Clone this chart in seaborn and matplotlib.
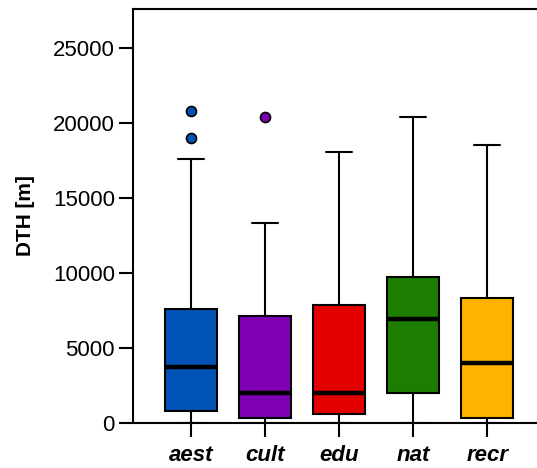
import matplotlib
matplotlib.use("Agg")
import matplotlib.pyplot as plt
import seaborn as sns
import pandas as pd

# Distance-to-home summary per activity category (metres)
categories = ["aest", "cult", "edu", "nat", "recr"]
whisker_low = [0, 0, 0, 0, 0]
q1 = [820, 350, 580, 2000, 310]
median = [3700, 1980, 1980, 6900, 4030]
q3 = [7600, 7100, 7850, 9750, 8300]
whisker_high = [17600, 13300, 18050, 20400, 18500]
outliers = [[19000, 20800], [20400], [], [], []]

colors = ["#0052B4", "#7F00B2", "#E30000", "#1D7D00", "#FFB200"]

# Expand each summary into observations whose quartiles reproduce it exactly
rows = []
for i, cat in enumerate(categories):
    obs = ([whisker_low[i]] + [q1[i]] * 3 + [median[i]] * 3 + [q3[i]] * 3
           + [whisker_high[i]] + outliers[i])
    rows += [(cat, v) for v in obs]
df = pd.DataFrame(rows, columns=["category", "DTH"])

sns.set_style("ticks")
plt.rcParams["font.family"] = ["Liberation Sans", "DejaVu Sans"]
plt.rcParams.update({
    "text.color": "black", "axes.labelcolor": "black",
    "xtick.color": "black", "ytick.color": "black",
    "axes.edgecolor": "black",
})

fig = plt.figure(figsize=(5.37, 4.68), dpi=100)
ax = fig.add_axes([0.2477, 0.0962, 0.768, 0.8846])

sns.boxplot(
    data=df, x="category", y="DTH", hue="category", order=categories,
    hue_order=categories, palette=colors, legend=False, width=0.7,
    linecolor="black", linewidth=1.5, saturation=1, ax=ax,
    medianprops=dict(linewidth=3.2, color="black"),
    flierprops=dict(marker="o", markersize=7.2, markeredgecolor="black",
                    markeredgewidth=1.2),
)

# Colour each category's outliers like its box
for line in ax.lines:
    if line.get_marker() == "o" and len(line.get_xdata()) > 0:
        idx = int(round(line.get_xdata()[0]))
        line.set_markerfacecolor(colors[idx])
        line.set_zorder(5)

ax.set_xlim(-0.784, 4.784)
ax.set_ylim(0, 27600)
ax.set_yticks([0, 5000, 10000, 15000, 20000, 25000])
ax.set_xlabel("")
ax.set_ylabel("DTH [m]", fontsize=15, fontweight="bold", labelpad=13)

ax.tick_params(axis="both", length=10, width=1.5, color="black",
               labelcolor="black", labelsize=16, pad=3)
ax.tick_params(axis="x", pad=6)
for lab in ax.get_xticklabels():
    lab.set_fontweight("bold")
    lab.set_fontstyle("italic")

for side in ["left", "bottom", "top", "right"]:
    ax.spines[side].set_linewidth(1.5)
    ax.spines[side].set_color("black")

fig.savefig("out.png", dpi=100, facecolor="white")
